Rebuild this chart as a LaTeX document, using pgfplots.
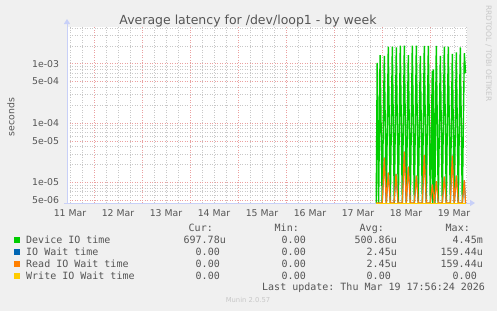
\documentclass[border=0pt]{standalone}
\usepackage{fontspec}
\setmainfont{DejaVu Sans}
\setmonofont{DejaVu Sans Mono}
\usepackage{pgfplots}
\pgfplotsset{compat=1.18}
\usetikzlibrary{arrows.meta}
\definecolor{bg}{HTML}{F0F0F0}
\definecolor{txt}{HTML}{555555}
\definecolor{faint}{HTML}{C8C8C8}
\definecolor{gmin}{HTML}{C8C8C8}
\definecolor{gmaj}{HTML}{EBA0A0}
\definecolor{axc}{HTML}{C8D0F8}
\definecolor{dev}{HTML}{00CC00}
\definecolor{iow}{HTML}{0066B3}
\definecolor{rdw}{HTML}{FF8000}
\definecolor{wrw}{HTML}{FFCC00}
\begin{document}
\begin{tikzpicture}
\useasboundingbox (0,0) rectangle (497pt,311pt);
\fill[bg] (0,0) rectangle (497pt,311pt);
\begin{axis}[
  at={(67pt,108pt)}, anchor=south west, scale only axis,
  width=400pt, height=176pt,
  ymode=log,
  xmin=11.4375, xmax=19.771, ymin=4.48e-6, ymax=4.16e-3,
  axis background/.style={fill=white},
  axis line style={draw=none},
  clip mode=individual,
  xtick={11.5,12.5,13.5,14.5,15.5,16.5,17.5,18.5,19.5},
  xticklabels={11 Mar,12 Mar,13 Mar,14 Mar,15 Mar,16 Mar,17 Mar,18 Mar,19 Mar},
  minor xtick={11.5,11.75,12.25,12.5,12.75,13.25,13.5,13.75,14.25,14.5,14.75,15.25,15.5,15.75,16.25,16.5,16.75,17.25,17.5,17.75,18.25,18.5,18.75,19.25,19.5,19.75},
  extra x ticks={12,13,14,15,16,17,18,19},
  extra x tick labels={},
  extra x tick style={grid=major, major grid style={gmaj, line width=0.7pt, dash pattern=on 1pt off 1.5pt}},
  xmajorgrids=false, xminorgrids=true,
  ytick={5e-6,1e-5,5e-5,1e-4,5e-4,1e-3},
  yticklabels={5e-06,1e-05,5e-05,1e-04,5e-04,1e-03},
  minor ytick={6e-6,7e-6,8e-6,9e-6,2e-5,3e-5,4e-5,6e-5,7e-5,8e-5,9e-5,2e-4,3e-4,4e-4,6e-4,7e-4,8e-4,9e-4,2e-3,3e-3,4e-3},
  ymajorgrids=true, yminorgrids=true,
  major grid style={gmaj, line width=0.7pt, dash pattern=on 1pt off 1.5pt},
  minor grid style={gmin, line width=0.7pt, dash pattern=on 1pt off 1.5pt},
  major tick length=0pt, minor tick length=0pt,
  tick label style={font=\fontsize{9.33}{11}\selectfont, text=txt},
  yticklabel style={anchor=east, inner sep=0pt, xshift=-7.7pt},
  xticklabel style={anchor=north, inner sep=0pt, yshift=-6pt},
  /pgf/number format/assume math mode=true,
]
\draw[axc, line width=1pt, -{Triangle[length=5pt,width=6pt]}] (rel axis cs:0,0) -- ([yshift=8pt]rel axis cs:0,1);
\draw[axc, line width=1pt, -{Triangle[length=5pt,width=6pt]}] ([xshift=-3pt]rel axis cs:0,0) -- ([xshift=8pt]rel axis cs:1,0);
\addplot[dev, line width=1.4pt, line join=bevel] coordinates {
(17.88,4.48e-6) (17.90,1.03e-3) (17.93,4.48e-6) (17.96,1.40e-3) (18.004,4.48e-6)
(18.048,1.35e-3) (18.09,4.48e-6) (18.131,1.94e-3) (18.173,4.48e-6) (18.215,1.94e-3)
(18.256,4.48e-6) (18.298,1.89e-3) (18.34,4.48e-6) (18.381,2.01e-3) (18.423,4.48e-6)
(18.465,2.01e-3) (18.506,4.48e-6) (18.548,1.40e-3) (18.59,4.48e-6) (18.631,2.01e-3)
(18.673,4.48e-6) (18.715,2.01e-3) (18.756,4.48e-6) (18.798,1.36e-3) (18.84,4.48e-6)
(18.881,2.0e-3) (18.923,4.48e-6) (18.965,2.0e-3) (19.006,4.48e-6) (19.048,7.6e-4)
(19.058,4.48e-6) (19.069,8.0e-4) (19.10,4.48e-6) (19.131,2.0e-3) (19.173,4.48e-6)
(19.215,1.36e-3) (19.256,4.48e-6) (19.298,1.94e-3) (19.34,4.48e-6) (19.381,1.94e-3)
(19.423,4.48e-6) (19.465,1.46e-3) (19.506,4.48e-6) (19.548,1.56e-3) (19.59,4.48e-6)
(19.631,1.89e-3) (19.673,4.48e-6) (19.715,1.5e-3) (19.74,6.98e-4)
};
\addplot[iow, line width=1pt, line join=bevel] coordinates {
(17.88,4.48e-6) (18.006,4.48e-6) (18.048,2.6e-5) (18.09,4.48e-6) (18.131,1.45e-5)
(18.173,4.48e-6) (18.25,4.48e-6) (18.292,1.38e-5) (18.334,4.48e-6) (18.423,4.48e-6)
(18.465,3.28e-5) (18.506,4.48e-6) (18.548,1.83e-5) (18.59,4.48e-6) (18.673,4.48e-6)
(18.715,1.29e-5) (18.756,4.48e-6) (18.84,4.48e-6) (18.881,2.89e-5) (18.923,4.48e-6)
(19.006,4.48e-6) (19.048,9.25e-6) (19.09,4.48e-6) (19.131,1.05e-5) (19.173,4.48e-6)
(19.256,4.48e-6) (19.298,1.24e-5) (19.34,4.48e-6) (19.423,4.48e-6) (19.465,2.81e-5)
(19.506,4.48e-6) (19.548,1.29e-5) (19.59,4.48e-6) (19.673,4.48e-6) (19.715,1.09e-5)
(19.74,4.48e-6)
};
\addplot[rdw, line width=1.2pt, line join=bevel] coordinates {
(17.88,4.48e-6) (18.006,4.48e-6) (18.048,2.6e-5) (18.09,4.48e-6) (18.131,1.45e-5)
(18.173,4.48e-6) (18.25,4.48e-6) (18.292,1.38e-5) (18.334,4.48e-6) (18.423,4.48e-6)
(18.465,3.28e-5) (18.506,4.48e-6) (18.548,1.83e-5) (18.59,4.48e-6) (18.673,4.48e-6)
(18.715,1.29e-5) (18.756,4.48e-6) (18.84,4.48e-6) (18.881,2.89e-5) (18.923,4.48e-6)
(19.006,4.48e-6) (19.048,9.25e-6) (19.09,4.48e-6) (19.131,1.05e-5) (19.173,4.48e-6)
(19.256,4.48e-6) (19.298,1.24e-5) (19.34,4.48e-6) (19.423,4.48e-6) (19.465,2.81e-5)
(19.506,4.48e-6) (19.548,1.29e-5) (19.59,4.48e-6) (19.673,4.48e-6) (19.715,1.09e-5)
(19.74,4.48e-6)
};
\addplot[wrw, line width=1pt] coordinates {(17.88,4.48e-6) (19.74,4.48e-6)};
\end{axis}
% title and side texts
\node[anchor=base, inner sep=0pt, text=txt, font=\fontsize{12.5}{14}\selectfont] at (248pt,286.7pt) {Average latency for /dev/loop1 - by week};
\node[rotate=90, inner sep=0pt, text=txt, font=\fontsize{9.33}{11}\selectfont] at (11pt,194pt) {seconds};
\node[rotate=-90, anchor=west, inner sep=0pt, text=faint, font=\fontsize{7.5}{9}\selectfont] at (488.5pt,306pt) {RRDTOOL / TOBI OETIKER};
% legend
\begin{scope}[every node/.style={inner sep=0pt, text=txt, font=\ttfamily\fontsize{10}{12}\selectfont}]
\node[anchor=base east] at (213pt,79.35pt) {Cur:};
\node[anchor=base east] at (299pt,79.35pt) {Min:};
\node[anchor=base east] at (384pt,79.35pt) {Avg:};
\node[anchor=base east] at (470pt,79.35pt) {Max:};
% row 1
\fill[dev] (14pt,68.5pt) rectangle (20pt,74.5pt);
\node[anchor=base west] at (26pt,67.85pt) {Device IO time};
\node[anchor=base east] at (226pt,67.85pt) {697.78u};
\node[anchor=base east] at (306pt,67.85pt) {0.00};
\node[anchor=base east] at (397pt,67.85pt) {500.86u};
\node[anchor=base east] at (483pt,67.85pt) {4.45m};
% row 2
\fill[iow] (14pt,56.5pt) rectangle (20pt,62.5pt);
\node[anchor=base west] at (26pt,55.85pt) {IO Wait time};
\node[anchor=base east] at (220pt,55.85pt) {0.00};
\node[anchor=base east] at (306pt,55.85pt) {0.00};
\node[anchor=base east] at (397pt,55.85pt) {2.45u};
\node[anchor=base east] at (483pt,55.85pt) {159.44u};
% row 3
\fill[rdw] (14pt,44.5pt) rectangle (20pt,50.5pt);
\node[anchor=base west] at (26pt,43.85pt) {Read IO Wait time};
\node[anchor=base east] at (220pt,43.85pt) {0.00};
\node[anchor=base east] at (306pt,43.85pt) {0.00};
\node[anchor=base east] at (397pt,43.85pt) {2.45u};
\node[anchor=base east] at (483pt,43.85pt) {159.44u};
% row 4
\fill[wrw] (14pt,32.5pt) rectangle (20pt,38.5pt);
\node[anchor=base west] at (26pt,31.85pt) {Write IO Wait time};
\node[anchor=base east] at (220pt,31.85pt) {0.00};
\node[anchor=base east] at (306pt,31.85pt) {0.00};
\node[anchor=base east] at (391pt,31.85pt) {0.00};
\node[anchor=base east] at (477pt,31.85pt) {0.00};
\node[anchor=base west] at (262pt,20.05pt) {Last update: Thu Mar 19 17:56:24 2026};
\end{scope}
\node[anchor=base, inner sep=0pt, text=faint, font=\fontsize{6.8}{8}\selectfont] at (248pt,8.5pt) {Munin 2.0.57};
\end{tikzpicture}
\end{document}
